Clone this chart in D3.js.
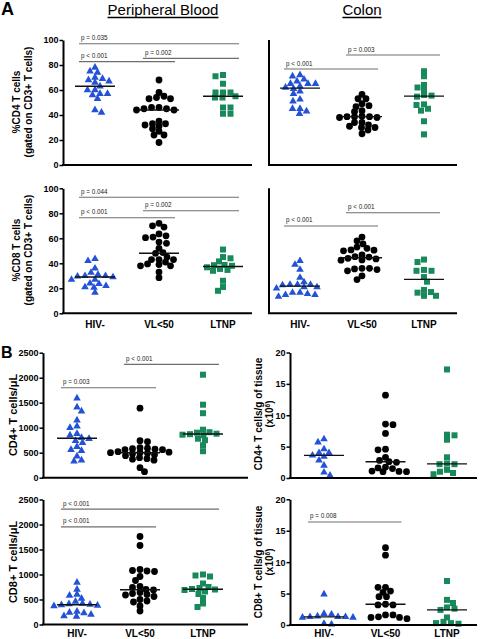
<!DOCTYPE html>
<html><head><meta charset="utf-8">
<script src="https://cdn.jsdelivr.net/npm/d3@7"></script>
<style>body{margin:0;background:#fff} text{font-family:"Liberation Sans",Arial,sans-serif}</style>
</head><body><svg id="c" width="480" height="639"></svg>
<script>
const categories = ["HIV-","VL<50","LTNP"];

// Panel A – %CD4 T cells, peripheral blood
const pbCD4_hiv  = [78,75,74,70,69,68,67,66,63,60,60,57,57,56,53,44,42];
const pbCD4_vl   = [68,58,55,54,53,53,46,46,45,45,44,44,35,33,33,32,31,29,27,24,24,18];
const pbCD4_ltnp = [72,71,65,58,58,58,55,54,54,46,46,41,41];
// Panel A – %CD4 T cells, colon
const colCD4_hiv  = [72,71,68.5,67,65,65,65,63,62,61,59,57,52.5,51,45,45,43,41];
const colCD4_vl   = [56.5,53,53,49,47.5,46.7,43.5,42.7,39,38.7,38.7,38.7,38,38,34,34,32,31,30,30,28,25];
const colCD4_ltnp = [75,71,64,62,60,56,55.5,54.7,48.5,48,45,43.5,35,24.5];
// Panel A – %CD8 T cells, peripheral blood
const pbCD8_hiv  = [43.5,42,36,32.5,31,30,30,29.5,29,27,27,24,23.5,22,21,20.5,16.5];
const pbCD8_vl   = [72,70,69,63.5,62,61,60.5,57,56,52,48.5,48,45,43,43,43,41,39.5,39,38,38,33,28.5];
const pbCD8_ltnp = [51,45,44,41.5,38.7,38.5,38,36.8,35.5,34.7,34,26,21,18];
// Panel A – %CD8 T cells, colon
const colCD8_hiv  = [42,39,35,28.5,25,23,23,23,22.5,21,21,20,16.5,16.5,15.5,14.7,14.7,13.3];
const colCD8_vl   = [61,58,55.5,53,52,50.7,50.5,50,46.7,45.3,45,44,43.5,42.7,42.5,36,36,35.5,35,34,30,27];
const colCD8_ltnp = [43,41,34.7,34,34,29,25.3,18.7,17,16.5,14,14];
// Panel B – CD4+ T cells/uL blood
const bCD4_hiv  = [1590,1410,1330,1150,1030,1000,880,850,800,780,740,700,620,560,540,430,350,330];
const bCD4_vl   = [1390,740,720,600,590,580,570,560,560,520,510,500,500,490,480,460,440,400,380,370,350,200,120];
const bCD4_ltnp = [2060,1460,1290,960,910,900,880,870,860,850,780,750,650,530];
// Panel B – CD4+ T cells/g tissue (x10^6)
const tCD4_hiv  = [6.2,5.7,4.6,4.0,4.0,3.6,3.4,2.8,2.0,0.9,0.4];
const tCD4_vl   = [13.2,8.6,8.5,7.1,4.6,4.5,3.3,2.8,2.6,2.5,1.75,1.6,1.5,1.1,1.05,1.0,1.0];
const tCD4_ltnp = [17.3,6.9,6.8,6.1,3.3,2.3,2.2,2.2,1.3,1.0,0.8,0.6];
// Panel B – CD8+ T cells/uL blood
const bCD8_hiv  = [840,700,600,580,520,460,420,410,400,390,380,370,260,240,230,200,170,160];
const bCD8_vl   = [1760,1580,1100,1080,1070,1060,960,880,760,740,700,690,640,620,600,590,560,500,470,450,370,270];
const bCD8_ltnp = [1000,980,960,820,750,730,710,700,690,660,610,530,420,350];
// Panel B – CD8+ T cells/g tissue (x10^6)
const tCD8_hiv  = [4.9,1.8,1.7,1.4,1.3,1.3,1.3,1.2,1.2,0.2,0.1];
const tCD8_vl   = [12.3,11.1,6.0,6.0,5.4,5.2,4.5,4.5,3.3,3.2,3.2,1.6,1.6,1.3,1.2,1.2,1.0];
const tCD8_ltnp = [7.0,4.0,3.5,2.8,2.6,2.4,1.2,0.5,0.3,0.3,0.2];

// significance brackets: [from, to, value, label]
const sigPbCD4   = [["HIV-","LTNP",97,"p = 0.035"],["HIV-","VL<50",82.7,"p < 0.001"],["VL<50","LTNP",85.3,"p = 0.002"]];
const sigColCD4  = [["HIV-","VL<50",76.8,"p < 0.001"],["VL<50","LTNP",88,"p = 0.003"]];
const sigPbCD8   = [["HIV-","LTNP",92.8,"p = 0.044"],["VL<50","LTNP",82,"p = 0.002"],["HIV-","VL<50",76.5,"p < 0.001"]];
const sigColCD8  = [["HIV-","VL<50",69.9,"p < 0.001"],["VL<50","LTNP",80.5,"p < 0.001"]];
const sigBCD4    = [["HIV-","VL<50",1800,"p = 0.003"],["VL<50","LTNP",2267,"p < 0.001"]];
const sigTCD4    = [];
const sigBCD8    = [["HIV-","LTNP",2307,"p < 0.001"],["HIV-","VL<50",1953,"p < 0.001"]];
const sigTCD8    = [["HIV-","VL<50",16.4,"p = 0.008"]];

const ticksPct = [0,20,40,60,80,100];
const ticksBlood = [0,500,1000,1500,2000,2500];
const ticksTissue = [0,5,10,15,20];

const svg = d3.select("#c");
const colors = ["#2352d6","#000000","#17895a"];
const symbols = [d3.symbolTriangle, d3.symbolCircle, d3.symbolSquare];
const symSizes = [25, 36, 36];

const panels = [
  {data:[pbCD4_hiv,pbCD4_vl,pbCD4_ltnp], sig:sigPbCD4, dom:[0,100], ticks:ticksPct, ax:63, xEnd:252, xr:[95,223], yr:[165,40], cats:false},
  {data:[colCD4_hiv,colCD4_vl,colCD4_ltnp], sig:sigColCD4, dom:[0,100], ticks:null, ax:269, xEnd:457, xr:[300,424], yr:[165,40], cats:false},
  {data:[pbCD8_hiv,pbCD8_vl,pbCD8_ltnp], sig:sigPbCD8, dom:[0,100], ticks:ticksPct, ax:63, xEnd:252, xr:[95,223], yr:[313.3,188.3], cats:true, catY:328},
  {data:[colCD8_hiv,colCD8_vl,colCD8_ltnp], sig:sigColCD8, dom:[0,100], ticks:null, ax:269, xEnd:457, xr:[300,424], yr:[313.3,188.3], cats:true, catY:328},
  {data:[bCD4_hiv,bCD4_vl,bCD4_ltnp], sig:sigBCD4, dom:[0,2500], ticks:ticksBlood, ax:43, xEnd:248, xr:[77,203], yr:[477.7,352.7], cats:false},
  {data:[tCD4_hiv,tCD4_vl,tCD4_ltnp], sig:sigTCD4, dom:[0,20], ticks:ticksTissue, ax:290, xEnd:477, xr:[324,447], yr:[478,352.5], cats:false},
  {data:[bCD8_hiv,bCD8_vl,bCD8_ltnp], sig:sigBCD8, dom:[0,2500], ticks:ticksBlood, ax:43, xEnd:248, xr:[77,203], yr:[624.5,499.5], cats:true, catY:637},
  {data:[tCD8_hiv,tCD8_vl,tCD8_ltnp], sig:sigTCD8, dom:[0,20], ticks:ticksTissue, ax:290, xEnd:477, xr:[324,447], yr:[625,499.3], cats:true, catY:637}
];

// Prism-like scatter: spread points sharing similar heights side by side
function swarm(vals, y, cx, dX, dY){
  const pts = vals.map(v=>({v, y:y(v)})).sort((a,b)=>a.y-b.y);
  const placed = [];
  pts.forEach((p,i)=>{
    let best = 0;
    outer: for(let k=0;k<400;k++){
      const s = (i%2===0)?1:-1;
      const cands = k===0?[0]:[s*k*0.5,-s*k*0.5];
      for(const c of cands){
        if(placed.every(q=>((q.dx-c)/dX)**2+((q.y-p.y)/dY)**2 >= 1)){best=c;break outer;}
      }
    }
    p.dx = best; placed.push(p);
  });
  return pts.map(p=>({v:p.v, y:p.y, x:cx+p.dx}));
}

panels.forEach(P=>{
  const g = svg.append("g");
  const y = d3.scaleLinear().domain(P.dom).range(P.yr);
  const x = d3.scalePoint().domain(categories).range(P.xr);
  P.sig.forEach(s=>{
    const x1 = x(s[0])-16, x2 = x(s[1])+16, yy = y(s[2]);
    g.append("line").attr("x1",x1).attr("x2",x2).attr("y1",yy).attr("y2",yy)
      .attr("stroke","#6e6e6e").attr("stroke-width",1.1);
    g.append("text").attr("x",x1+2).attr("y",yy-3.5).attr("font-size",6.3)
      .attr("fill","#222").text(s[3]);
  });
  P.data.forEach((vals,i)=>{
    const pts = swarm(vals, y, x(categories[i]), 7.3, 5);
    g.selectAll(null).data(pts).enter().append("path")
      .attr("d", d3.symbol().type(symbols[i]).size(symSizes[i]))
      .attr("transform", d=>`translate(${d.x},${d.y})`)
      .attr("fill", colors[i]);
    const med = d3.median(vals);
    g.append("line").attr("x1",x(categories[i])-20).attr("x2",x(categories[i])+20)
      .attr("y1",y(med)).attr("y2",y(med)).attr("stroke","#111").attr("stroke-width",1.4);
  });
  if(P.ticks){
    const ya = g.append("g").attr("transform",`translate(${P.ax},0)`)
      .call(d3.axisLeft(y).tickValues(P.ticks).tickFormat(d3.format("d")).tickSize(3.5).tickSizeOuter(0).tickPadding(1));
    ya.select(".domain").attr("stroke-width",2);
    ya.selectAll(".tick line").attr("stroke-width",1.5);
    ya.selectAll("text").attr("font-size",9).attr("font-weight","bold")
      .attr("font-family","'Liberation Sans',Arial,sans-serif").attr("fill","#000");
  } else {
    g.append("line").attr("x1",P.ax).attr("x2",P.ax).attr("y1",P.yr[1]).attr("y2",P.yr[0])
      .attr("stroke","#000").attr("stroke-width",2);
  }
  g.append("line").attr("x1",P.ax-1).attr("x2",P.xEnd).attr("y1",P.yr[0]).attr("y2",P.yr[0])
    .attr("stroke","#000").attr("stroke-width",2);
  if(P.cats){
    g.selectAll(null).data(categories).enter().append("text")
      .attr("x",d=>x(d)).attr("y",P.catY).attr("text-anchor","middle")
      .attr("font-size",10).attr("font-weight","bold").text(d=>d);
  }
});

function vlabel(xb, yc, txt, size){
  return svg.append("text").attr("transform",`translate(${xb},${yc}) rotate(-90)`)
    .attr("text-anchor","middle").attr("font-size",size).attr("font-weight","bold").text(txt);
}
vlabel(19.5,102,"%CD4 T cells",10);
vlabel(31.5,102,"(gated on CD3+ T cells)",10);
vlabel(19.5,250,"%CD8 T cells",10);
vlabel(31.5,250,"(gated on CD3+ T cells)",10);
vlabel(16.5,415,"CD4+ T cells/\u03bcL",11);
vlabel(16.5,562,"CD8+ T cells/\u03bcL",11);
vlabel(262,414,"CD4+ T cells/g of tissue",10);
vlabel(262,562,"CD8+ T cells/g of tissue",10);
[414,562].forEach(yc=>{
  const t = vlabel(273,yc,"",10);
  t.append("tspan").text("(x10");
  t.append("tspan").attr("dy",-3).attr("font-size",6.5).text("6");
  t.append("tspan").attr("dy",3).text(")");
});

[["Peripheral Blood",163],["Colon",362]].forEach(([t,cx])=>{
  const el = svg.append("text").attr("x",cx).attr("y",15).attr("text-anchor","middle")
    .attr("font-size",15).text(t);
  const w = el.node().getComputedTextLength();
  svg.append("line").attr("x1",cx-w/2).attr("x2",cx+w/2).attr("y1",17.5).attr("y2",17.5)
    .attr("stroke","#000").attr("stroke-width",1.5);
});
svg.append("text").attr("x",1).attr("y",15).attr("font-size",18).attr("font-weight","bold").text("A");
svg.append("text").attr("x",1).attr("y",358).attr("font-size",16).attr("font-weight","bold").text("B");
</script></body></html>
